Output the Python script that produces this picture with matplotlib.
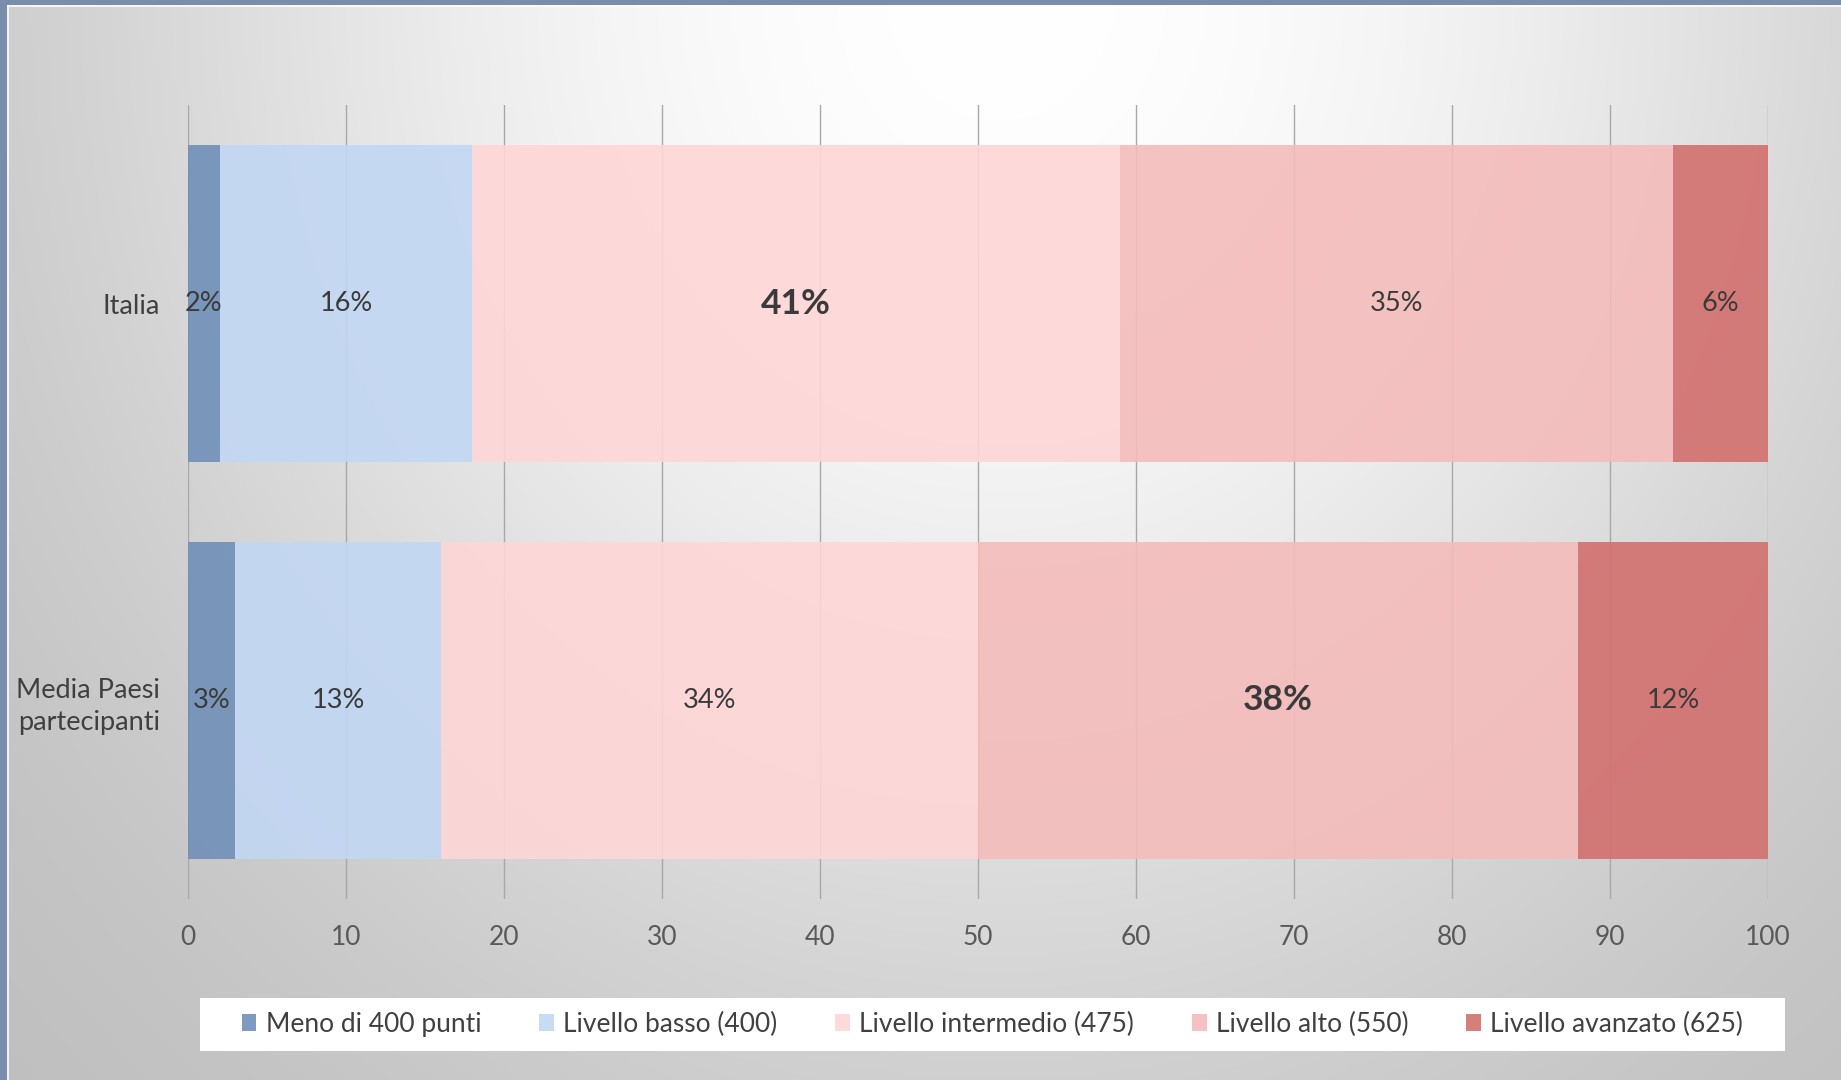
import numpy as np
import matplotlib.pyplot as plt
from matplotlib.patches import Rectangle

plt.rcParams['font.family'] = ['Lato', 'DejaVu Sans']

# dati
categorie = ['Italia', 'Media Paesi\npartecipanti']
livelli = ['Meno di 400 punti', 'Livello basso (400)', 'Livello intermedio (475)',
           'Livello alto (550)', 'Livello avanzato (625)']
italia = [2, 16, 41, 35, 6]
media = [3, 13, 34, 38, 12]
colori = ['#7090b8', '#c2d7f4', '#ffd6d6', '#f4bcbb', '#d2706e']
valori = [italia, media]

W, H = 1841, 1080
fig = plt.figure(figsize=(W / 100, H / 100), dpi=100)

# sfondo sfumato (bianco in alto, grigio ai bordi)
bg = fig.add_axes([0, 0, 1, 1], zorder=-10)
yy, xx = np.mgrid[0:H:3, 0:W:3]
r = np.hypot((xx - 1000) / 1000, (yy + 10) / 1120)
drop = 68 * np.tanh(0.9 * r ** 1.9)
img = np.clip(255 - drop, 0, 255) / 255
bg.imshow(np.dstack([img, img, img]), extent=[0, 1, 0, 1], aspect='auto', origin='upper')
bg.set_xlim(0, 1)
bg.set_ylim(0, 1)
bg.axis('off')
# cornice blu a sinistra e in alto
bg.add_patch(Rectangle((0, 0), 7 / W, 1, color='#7a8dab', lw=0))
bg.add_patch(Rectangle((0, 1 - 5 / H), 1, 5 / H, color='#7a8dab', lw=0))
bg.add_patch(Rectangle((7 / W, 0), 2 / W, 1 - 5 / H, color='white', lw=0, alpha=0.8))
bg.add_patch(Rectangle((7 / W, 1 - 7 / H), 1, 2 / H, color='white', lw=0, alpha=0.8))
# riquadro bianco della legenda
bg.add_patch(Rectangle((200 / W, 1 - 1051 / H), 1585 / W, 53 / H, color='white', lw=0))

ax = fig.add_axes([188 / W, 1 - 899 / H, (1768 - 188) / W, (899 - 105) / H])
ax.patch.set_alpha(0)

y = [0, 1]
handles = []
for i, nome in enumerate(livelli):
    larg = [v[i] for v in valori]
    sin = [sum(v[:i]) for v in valori]
    b = ax.barh(y, larg, left=sin, height=0.8, color=colori[i], alpha=0.9,
                lw=0, label=nome, zorder=2)
    handles.append(b)
    for j, v in enumerate(valori):
        massimo = v[i] == max(v)
        ax.text(sin[j] + larg[j] / 2, y[j], f'{larg[j]}%', ha='center', va='center',
                fontsize=25.5 if massimo else 19.5,
                fontweight='bold' if massimo else 'normal',
                color='#3a3a3a', zorder=3)

ax.set_xlim(0, 100)
ax.set_ylim(1.5, -0.5)
ax.set_xticks(range(0, 101, 10))
ax.set_yticks(y)
ax.set_yticklabels(categorie, linespacing=1.35)
ax.grid(axis='x', color='#a8a8a8', lw=1, zorder=1)
ax.set_axisbelow(True)
for s in ax.spines.values():
    s.set_visible(False)
ax.tick_params(axis='x', length=0, pad=19, labelsize=19, labelcolor='#595959')
ax.tick_params(axis='y', length=0, pad=20, labelsize=19.5, labelcolor='#404040')

fig.legend(handles=handles, loc='center', bbox_to_anchor=((200 + 1785) / 2 / W, 1 - 1024.5 / H),
           ncol=5, frameon=False, fontsize=19, handlelength=0.55, handleheight=0.6,
           handletextpad=0.35, columnspacing=2.2, labelcolor='#404040')

fig.savefig('out.png', dpi=100)
